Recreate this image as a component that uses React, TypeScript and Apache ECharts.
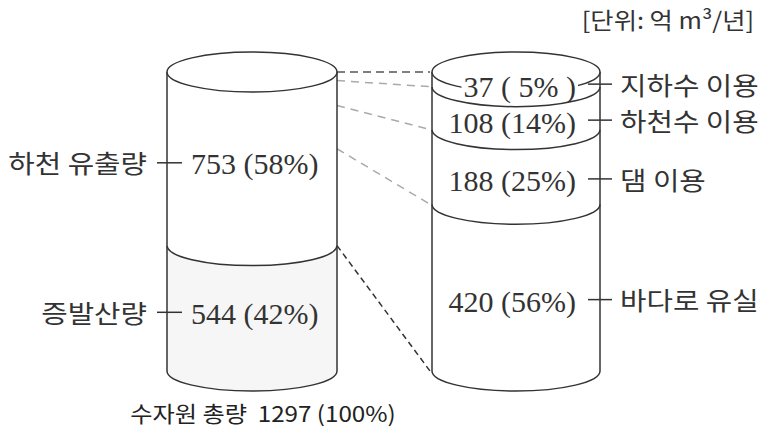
import React, { useEffect, useRef } from 'react';
import * as echarts from 'echarts';

// ---- data ----
const sourceCategories = ['하천 유출량', '증발산량'];
const sourceValues = [753, 544];
const sourceLabels = ['753 (58%)', '544 (42%)'];
const useCategories = ['지하수 이용', '하천수 이용', '댐 이용', '바다로 유실'];
const useValues = [37, 108, 188, 420];
const useLabels = ['37 ( 5% )', '108 (14%)', '188 (25%)', '420 (56%)'];
const totalName = '수자원 총량';
const totalPercent = '(100%)';
const unitText = '[단위: 억 m³/년]';

// ---- layout / style ----
const W = 759;
const H = 428;
const GRID_TOP = 72;
const GRID_BOTTOM_Y = 371;
const RY = 20;
const K = 0.5523;
const STROKE = '#333';
const SANS = '"Noto Sans CJK KR", "Noto Sans", sans-serif';
const SERIF = '"Liberation Serif", "DejaVu Serif", serif';
const MIN_LABEL_GAP = 36;

const LEFT = { cx: 252, rx: 85, side: 'left', labelOffset: 4, fills: ['#ffffff', '#f6f6f6'], names: sourceCategories, labels: sourceLabels };
const RIGHT = { cx: 516, rx: 84, side: 'right', labelOffset: 12, fills: ['#ffffff', '#ffffff', '#ffffff', '#ffffff'], names: useCategories, labels: useLabels };

function segments(values: number[]) {
  const tot = values.reduce((a, b) => a + b, 0);
  let acc = 0;
  return values.map((v, i) => {
    const s = acc / tot;
    acc += v;
    return [s, acc / tot, i];
  });
}

const sum = (a: number[]) => a.reduce((x, y) => x + y, 0);

function lowerLR(cx: number, rx: number, y: number) {
  return `C${cx - rx} ${y + K * RY} ${cx - K * rx} ${y + RY} ${cx} ${y + RY} C${cx + K * rx} ${y + RY} ${cx + rx} ${y + K * RY} ${cx + rx} ${y}`;
}
function lowerRL(cx: number, rx: number, y: number) {
  return `C${cx + rx} ${y + K * RY} ${cx + K * rx} ${y + RY} ${cx} ${y + RY} C${cx - K * rx} ${y + RY} ${cx - rx} ${y + K * RY} ${cx - rx} ${y}`;
}
function upperRL(cx: number, rx: number, y: number) {
  return `C${cx + rx} ${y - K * RY} ${cx + K * rx} ${y - RY} ${cx} ${y - RY} C${cx - K * rx} ${y - RY} ${cx - rx} ${y - K * RY} ${cx - rx} ${y}`;
}

function makeCylinderRender(cfg: any, segs: number[][]) {
  // label y: segment middle + offset, pushed up if too close to the next label below
  const labelY = (api: any, i: number): number => {
    const mid = api.coord([cfg.cx, (segs[i][0] + segs[i][1]) / 2])[1] + cfg.labelOffset;
    if (i + 1 >= segs.length) return mid;
    return Math.min(mid, labelY(api, i + 1) - MIN_LABEL_GAP);
  };
  return (params: any, api: any) => {
    const s = api.value(0);
    const e = api.value(1);
    const i = api.value(2);
    const y0 = api.coord([cfg.cx, s])[1];
    const y1 = api.coord([cfg.cx, e])[1];
    const xl = cfg.cx - cfg.rx;
    const xr = cfg.cx + cfg.rx;
    const children: any[] = [];
    children.push({
      type: 'path',
      z2: 0,
      shape: { pathData: `M${xl} ${y0} ${lowerLR(cfg.cx, cfg.rx, y0)} L${xr} ${y1} ${lowerRL(cfg.cx, cfg.rx, y1)} Z` },
      style: { fill: cfg.fills[i], stroke: null },
    });
    children.push({ type: 'line', z2: 5, shape: { x1: xl, y1: y0, x2: xl, y2: y1 }, style: { stroke: STROKE, lineWidth: 1.5 } });
    children.push({ type: 'line', z2: 5, shape: { x1: xr, y1: y0, x2: xr, y2: y1 }, style: { stroke: STROKE, lineWidth: 1.5 } });
    children.push({
      type: 'path',
      z2: 5,
      shape: { pathData: `M${xl} ${y1} ${lowerLR(cfg.cx, cfg.rx, y1)}` },
      style: { fill: null, stroke: STROKE, lineWidth: 1.5 },
    });
    if (i === 0) {
      children.push({
        type: 'path',
        z2: 5,
        shape: { pathData: `M${xl} ${y0} ${lowerLR(cfg.cx, cfg.rx, y0)} ${upperRL(cfg.cx, cfg.rx, y0)} Z` },
        style: { fill: '#ffffff', stroke: STROKE, lineWidth: 1.5 },
      });
    }
    const ly = labelY(api, i);
    if (cfg.side === 'left') {
      children.push({ type: 'line', z2: 6, shape: { x1: xl - 10, y1: ly, x2: xl + 15, y2: ly }, style: { stroke: STROKE, lineWidth: 1.5 } });
      children.push({
        type: 'text', z2: 10, x: xl - 20, y: ly, scaleX: 1.15,
        style: { text: cfg.names[i], x: 0, y: 0, align: 'right', verticalAlign: 'middle', fill: '#333', fontSize: 25, fontFamily: SANS },
      });
      children.push({
        type: 'text', z2: 10,
        style: { text: cfg.labels[i], x: xl + 24, y: ly + 1, align: 'left', verticalAlign: 'middle', fill: '#333', fontSize: 30, fontFamily: SERIF, lineHeight: 24 },
      });
    } else {
      children.push({ type: 'line', z2: 6, shape: { x1: xr - 12, y1: ly, x2: xr + 12, y2: ly }, style: { stroke: STROKE, lineWidth: 1.5 } });
      children.push({
        type: 'text', z2: 10, x: xr + 20, y: ly, scaleX: 1.15,
        style: { text: cfg.names[i], x: 0, y: 0, align: 'left', verticalAlign: 'middle', fill: '#333', fontSize: 25, fontFamily: SANS },
      });
      children.push({
        type: 'text', z2: 10,
        style: {
          text: cfg.labels[i], x: xr - 22, y: ly + 2, align: 'right', verticalAlign: 'middle', fill: '#333',
          fontSize: 30, fontFamily: SERIF, backgroundColor: '#ffffff', lineHeight: 22, padding: [0, 2],
        },
      });
    }
    return { type: 'group', children };
  };
}

export default function App() {
  const ref = useRef<HTMLDivElement>(null);
  useEffect(() => {
    if (!ref.current) return;
    const chart = echarts.init(ref.current, undefined, { renderer: 'svg' });
    const leftSeg = segments(sourceValues);
    const rightSeg = segments(useValues);
    const leftTotal = sum(sourceValues);
    const rightTotal = sum(useValues);
    const leaders: number[][] = [];
    let acc = 0;
    leaders.push([0, 0, 0]);
    useValues.forEach((v, i) => {
      acc += v;
      leaders.push([acc / leftTotal, acc / rightTotal, i + 1]);
    });
    const leaderStyles = [
      { stroke: '#555', lineDash: [8, 5], lineWidth: 1.5 },
      { stroke: '#aaa', lineDash: [8, 6], lineWidth: 1.5 },
      { stroke: '#aaa', lineDash: [8, 6], lineWidth: 1.5 },
      { stroke: '#aaa', lineDash: [8, 6], lineWidth: 1.5 },
      { stroke: '#333', lineDash: [6, 4], lineWidth: 1.5 },
    ];

    const option: any = {
      animation: false,
      backgroundColor: '#ffffff',
      grid: { left: 0, right: 0, top: GRID_TOP, bottom: H - GRID_BOTTOM_Y },
      xAxis: { type: 'value', min: 0, max: W, show: false },
      yAxis: { type: 'value', min: 0, max: 1, inverse: true, show: false },
      graphic: [
        {
          type: 'text', x: 754, y: 19, scaleX: 1.1,
          style: { text: unitText, x: 0, y: 0, align: 'right', verticalAlign: 'middle', fill: '#333', fontSize: 23, fontFamily: SANS },
        },
        {
          type: 'text', x: 263, y: 412, scaleX: 1.1,
          style: {
            text: `${totalName}  ${leftTotal} ${totalPercent}`, x: 0, y: 0, align: 'center', verticalAlign: 'middle',
            fill: '#222', fontSize: 22, fontFamily: SANS,
          },
        },
      ],
      series: [
        {
          type: 'custom', name: 'leaders', silent: true, clip: false, z: 1,
          data: leaders,
          renderItem: (params: any, api: any) => {
            const lf = api.value(0);
            const rf = api.value(1);
            const idx = api.value(2);
            const ya = api.coord([0, lf])[1];
            const yb = api.coord([0, rf])[1];
            return {
              type: 'line',
              shape: { x1: LEFT.cx + LEFT.rx, y1: ya, x2: RIGHT.cx - RIGHT.rx - 2, y2: yb },
              style: leaderStyles[idx],
            };
          },
        },
        {
          type: 'custom', name: 'source', silent: true, clip: false, z: 2,
          data: leftSeg,
          renderItem: makeCylinderRender(LEFT, leftSeg),
        },
        {
          type: 'custom', name: 'use', silent: true, clip: false, z: 2,
          data: rightSeg,
          renderItem: makeCylinderRender(RIGHT, rightSeg),
        },
      ],
    };
    chart.setOption(option);
    return () => chart.dispose();
  }, []);
  return <div ref={ref} style={{ position: 'fixed', left: 0, top: 0, width: W, height: H }} />;
}
